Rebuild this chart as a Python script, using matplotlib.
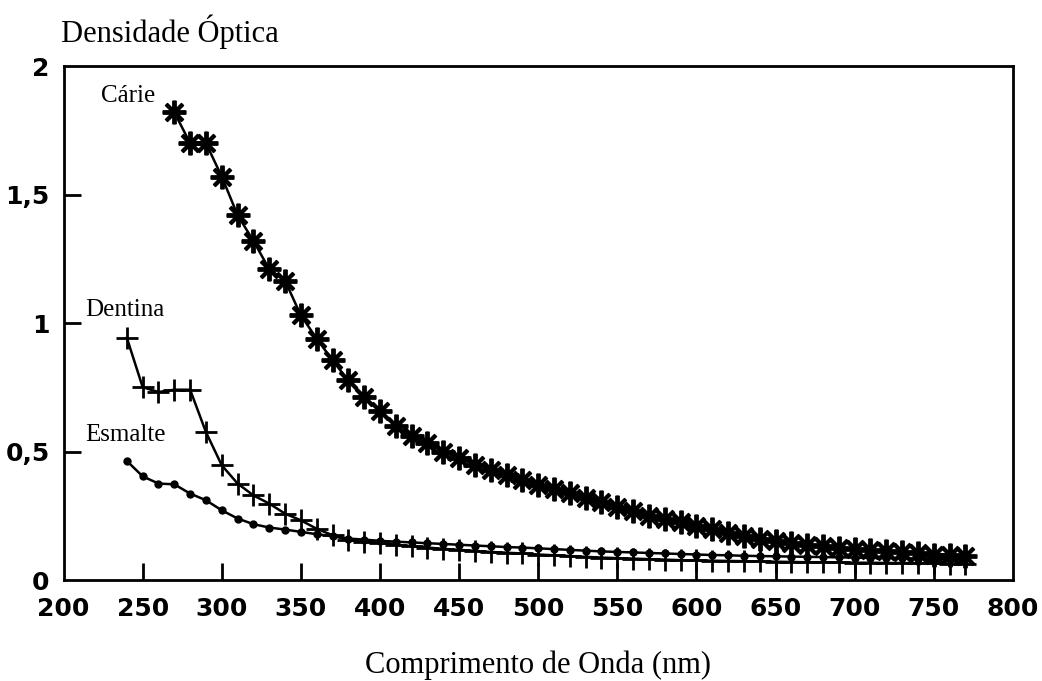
import numpy as np
import matplotlib.pyplot as plt

# comprimento de onda (nm), passo de 10 nm
wl_carie = np.arange(270, 780, 10)
carie = [1.82, 1.70, 1.70, 1.57, 1.42, 1.32, 1.21, 1.165, 1.03, 0.94,
         0.855, 0.777, 0.712, 0.66, 0.598, 0.56, 0.532, 0.50, 0.474, 0.45,
         0.43, 0.408, 0.39, 0.372, 0.355, 0.338, 0.32, 0.303, 0.285, 0.27,
         0.25, 0.238, 0.225, 0.21, 0.198, 0.185, 0.172, 0.159, 0.152, 0.145,
         0.138, 0.132, 0.126, 0.121, 0.117, 0.113, 0.109, 0.105, 0.100, 0.097,
         0.095]

wl_dent = np.arange(240, 780, 10)
dentina = [0.943, 0.751, 0.732, 0.741, 0.741, 0.576, 0.447, 0.376, 0.33, 0.298,
           0.259, 0.233, 0.20, 0.175, 0.155, 0.149, 0.145, 0.138, 0.132, 0.127,
           0.122, 0.118, 0.114, 0.110, 0.107, 0.104, 0.100, 0.097, 0.094, 0.091,
           0.088, 0.086, 0.084, 0.082, 0.080, 0.078, 0.077, 0.076, 0.075, 0.074,
           0.073, 0.072, 0.071, 0.070, 0.070, 0.069, 0.068, 0.068, 0.067, 0.067,
           0.066, 0.066, 0.065, 0.065]

wl_esm = np.arange(240, 780, 10)
esmalte = [0.464, 0.404, 0.376, 0.373, 0.337, 0.311, 0.272, 0.24, 0.218, 0.205,
           0.197, 0.188, 0.179, 0.171, 0.162, 0.158, 0.153, 0.150, 0.147, 0.144,
           0.141, 0.138, 0.135, 0.132, 0.129, 0.127, 0.124, 0.121, 0.118, 0.115,
           0.112, 0.110, 0.108, 0.106, 0.104, 0.102, 0.100, 0.098, 0.097, 0.095,
           0.094, 0.093, 0.092, 0.091, 0.090, 0.089, 0.088, 0.087, 0.086, 0.085,
           0.084, 0.083, 0.082, 0.081]

xticks = [200, 250, 300, 350, 400, 450, 500, 550, 600, 650, 700, 750, 800]
yticks = [0, 0.5, 1, 1.5, 2]
ytick_labels = ['0', '0,5', '1', '1,5', '2']

serif = 'Liberation Serif'
bold_sans = 'DejaVu Sans'

fig = plt.figure(figsize=(10.42, 6.81), dpi=100)
ax = fig.add_axes([0.061, 0.148, 0.911, 0.755])

ax.plot(wl_carie, carie, color='black', lw=1.8,
        marker=(8, 2, 0), markersize=17, markeredgewidth=2.8)
ax.plot(wl_dent, dentina, color='black', lw=1.8,
        marker='+', markersize=16, markeredgewidth=2.0)
ax.plot(wl_esm, esmalte, color='black', lw=1.8,
        marker='o', markersize=5)

ax.set_xlim(200, 800)
ax.set_ylim(0, 2)

# ticks para dentro, sem ticks nas extremidades
ax.set_xticks(xticks)
ax.set_xticklabels([str(t) for t in xticks], fontfamily=bold_sans,
                   fontweight='bold', fontsize=18)
ax.set_yticks(yticks)
ax.set_yticklabels(ytick_labels, fontfamily=bold_sans,
                   fontweight='bold', fontsize=18)
ax.tick_params(axis='both', direction='in', length=12, width=2, color='black')
ax.tick_params(axis='x', pad=12)
ax.tick_params(axis='y', pad=10)
for t in ax.xaxis.get_major_ticks():
    if t.get_loc() in (200, 800):
        t.tick1line.set_visible(False)
for t in ax.yaxis.get_major_ticks():
    if t.get_loc() in (0, 2):
        t.tick1line.set_visible(False)

for s in ax.spines.values():
    s.set_linewidth(2.0)

ax.text(241, 1.885, 'Cárie', fontfamily=serif, fontsize=18,
        ha='center', va='center')
ax.text(238.5, 1.05, 'Dentina', fontfamily=serif, fontsize=18,
        ha='center', va='center')
ax.text(239, 0.565, 'Esmalte', fontfamily=serif, fontsize=18,
        ha='center', va='center')

fig.text(0.059, 0.953, 'Densidade Óptica', fontfamily=serif, fontsize=22,
         ha='left', va='center')
ax.set_xlabel('Comprimento de Onda (nm)', fontfamily=serif, fontsize=22,
              labelpad=21)

fig.savefig('out.png', dpi=100, facecolor='white')
